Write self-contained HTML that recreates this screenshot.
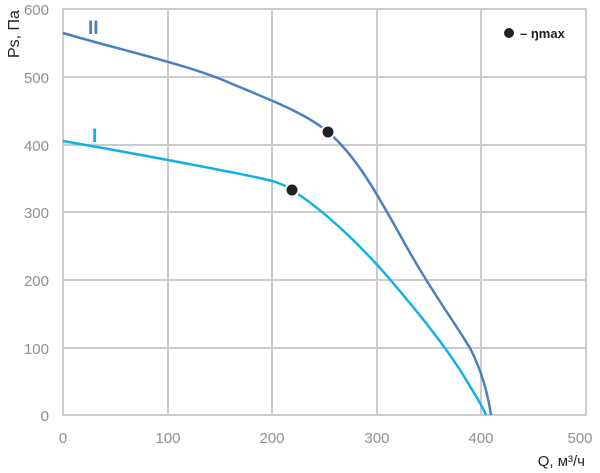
<!DOCTYPE html>
<html><head><meta charset="utf-8"><style>
html,body{margin:0;padding:0;background:#fff;}
svg{display:block;font-family:"Liberation Sans",sans-serif;}
</style></head><body>
<svg width="600" height="473" viewBox="0 0 600 473">
<g stroke="#cccccc" stroke-width="2" fill="none">
<line x1="168" y1="9" x2="168" y2="415"/>
<line x1="272" y1="9" x2="272" y2="415"/>
<line x1="377" y1="9" x2="377" y2="415"/>
<line x1="481" y1="9" x2="481" y2="415"/>
<line x1="63" y1="77" x2="586" y2="77"/>
<line x1="63" y1="145" x2="586" y2="145"/>
<line x1="63" y1="212" x2="586" y2="212"/>
<line x1="63" y1="280" x2="586" y2="280"/>
<line x1="63" y1="348" x2="586" y2="348"/>
<rect x="63" y="9" width="523" height="406"/>
</g>
<g fill="#8f8f8f" font-size="15">
<g text-anchor="end">
<text x="49" y="15">600</text><text x="49" y="83">500</text><text x="49" y="151">400</text>
<text x="49" y="218">300</text><text x="49" y="286">200</text><text x="49" y="354">100</text><text x="49" y="421">0</text>
</g>
<g text-anchor="middle">
<text x="63" y="443">0</text><text x="168" y="443">100</text><text x="272" y="443">200</text>
<text x="377" y="443">300</text><text x="481" y="443">400</text><text x="580" y="443">500</text>
</g>
</g>
<text x="585" y="466" text-anchor="end" font-size="15" fill="#222">Q, м³/ч</text>
<text transform="translate(19,58) rotate(-90)" font-size="16" fill="#222">Ps, Па</text>
<path d="M63,33 C120,50 190,65 230,83 C275,102 305,113 328,132 C355,155 375,190 400,235 C430,290 460,330 471,350 C482,372 488,395 491,415" fill="none" stroke="#4a7fc1" stroke-width="2.5"/>
<path d="M63,141 C120,151 180,162 230,172 C260,178 280,181 292,190 C320,208 350,235 380,268 C415,308 445,345 465,378 C475,395 482,405 486,415" fill="none" stroke="#12b0e8" stroke-width="2.5"/>
<circle cx="328" cy="132" r="6.5" fill="#222" stroke="#fff" stroke-width="2"/>
<circle cx="292" cy="190" r="6.5" fill="#222" stroke="#fff" stroke-width="2"/>
<text x="88" y="34" font-size="19" fill="#4a7fc1" font-weight="bold">II</text>
<text x="92" y="142" font-size="19" fill="#12b0e8" font-weight="bold">I</text>
<circle cx="509" cy="33" r="5" fill="#222"/>
<text x="520" y="38" font-size="13" fill="#222" font-weight="bold">– ŋmax</text>
</svg>
</body></html>
